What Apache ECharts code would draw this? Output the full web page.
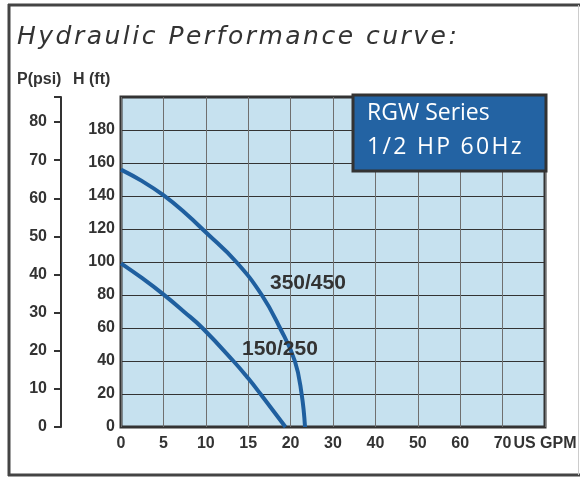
<!DOCTYPE html>
<html>
<head>
<meta charset="utf-8">
<script src="https://cdn.jsdelivr.net/npm/echarts@6/dist/echarts.min.js"></script>
<style>
  html, body { margin: 0; padding: 0; background: #fff; }
  #chart { width: 580px; height: 477px; }
</style>
</head>
<body>
<div id="chart"></div>
<script>
// x axis is spaced evenly but its labels jump from steps of 5 to steps of 10 after 20
var xTickLabels = ['0', '5', '10', '15', '20', '30', '40', '50', '60', '70', 'US GPM'];
var hTicks = [0, 20, 40, 60, 80, 100, 120, 140, 160, 180];
var psiTicks = [0, 10, 20, 30, 40, 50, 60, 70, 80];

// curves: flow in US GPM, head in ft
var flow350 = [0, 2.5, 5, 7.5, 10, 13.6, 16.6, 18.75, 21, 22.6, 23.4];
var head350 = [156, 149, 140.5, 130, 118, 100, 80, 60, 40, 20, 0];
var flow150 = [0, 2.5, 5, 7.5, 9.6, 13.25, 15, 16.45, 19.4];
var head150 = [99.2, 90.2, 80.4, 69.6, 60, 40, 29.5, 20, 0];

// gpm -> position on the evenly spaced axis
function gpmToAxis(g) {
  return g <= 20 ? g / 5 : 4 + (g - 20) / 10;
}
function buildData(flow, head) {
  var out = [];
  for (var i = 0; i < flow.length; i++) out.push([gpmToAxis(flow[i]), head[i]]);
  return out;
}
// widen text a little, the original is set with loose tracking
function spaced(s) {
  return s.split('').join('\u200A');
}

var chart = echarts.init(document.getElementById('chart'));
var darkText = '#333';
var curveColor = '#1f5f9f';
var labelFont = 'Liberation Sans';

var option = {
  animation: false,
  grid: {
    left: 121, top: 97, right: 35, bottom: 50,
    show: true,
    backgroundColor: '#c6e1ef',
    borderColor: '#333',
    borderWidth: 3
  },
  xAxis: {
    type: 'value',
    min: 0, max: 10, interval: 1,
    axisLine: { show: false },
    axisTick: { show: false },
    splitLine: { show: true, lineStyle: { color: '#6f6f6f', width: 1 } },
    axisLabel: {
      margin: 9,
      color: darkText,
      fontSize: 16,
      fontWeight: 'bold',
      fontFamily: labelFont,
      formatter: function (v) { return xTickLabels[Math.round(v)]; }
    }
  },
  yAxis: [
    {
      type: 'value',
      min: 0, max: 200, interval: 20,
      axisLine: { show: false },
      axisTick: { show: false },
      splitLine: { show: true, lineStyle: { color: '#333', width: 1 } },
      axisLabel: {
        margin: 6,
        color: darkText,
        fontSize: 16,
        fontWeight: 'bold',
        fontFamily: labelFont,
        verticalAlign: 'middle',
        padding: [10, 0, 0, 0],
        formatter: function (v) { return hTicks.indexOf(v) >= 0 ? String(v) : ''; }
      }
    },
    {
      // pressure scale, 1 psi = 2.31 ft of head
      type: 'value',
      position: 'left',
      offset: 60,
      min: 0, max: 200 / 2.31, interval: 10,
      axisLine: { show: true, lineStyle: { color: '#333', width: 2 } },
      axisTick: { show: true, length: 7, lineStyle: { color: '#333', width: 2 } },
      splitLine: { show: false },
      axisLabel: {
        margin: 14,
        color: darkText,
        fontSize: 16,
        fontWeight: 'bold',
        fontFamily: labelFont,
        formatter: function (v) { return psiTicks.indexOf(v) >= 0 ? String(v) : ''; }
      }
    }
  ],
  series: [
    {
      name: '350/450',
      type: 'line',
      smooth: 0.45,
      symbol: 'none',
      data: buildData(flow350, head350),
      lineStyle: { color: curveColor, width: 4 }
    },
    {
      name: '150/250',
      type: 'line',
      smooth: 0.45,
      symbol: 'none',
      data: buildData(flow150, head150),
      lineStyle: { color: curveColor, width: 4 }
    }
  ],
  graphic: [
    // outer frame
    { type: 'line', shape: { x1: 9, y1: 4, x2: 9, y2: 476 }, style: { stroke: '#444', lineWidth: 3 } },
    { type: 'line', shape: { x1: 8, y1: 5, x2: 580, y2: 5 }, style: { stroke: '#444', lineWidth: 3 } },
    { type: 'line', shape: { x1: 8, y1: 475, x2: 580, y2: 475 }, style: { stroke: '#444', lineWidth: 3 } },
    { type: 'line', shape: { x1: 578.5, y1: 5, x2: 578.5, y2: 475 }, style: { stroke: '#ccc', lineWidth: 1 } },
    {
      type: 'text', left: 17, top: 25,
      style: {
        text: spaced('Hydraulic Performance curve:'),
        fill: darkText,
        font: 'italic 25px "DejaVu Sans"'
      }
    },
    { type: 'text', left: 17, top: 72, style: { text: 'P(psi)', fill: darkText, font: 'bold 16px "Liberation Sans"' } },
    { type: 'text', left: 73, top: 72, style: { text: 'H (ft)', fill: darkText, font: 'bold 16px "Liberation Sans"' } },
    { type: 'text', left: 270, top: 273, z: 10, style: { text: '350/450', fill: darkText, font: 'bold 21px "Liberation Sans"' } },
    { type: 'text', left: 242, top: 339, z: 10, style: { text: '150/250', fill: darkText, font: 'bold 21px "Liberation Sans"' } },
    {
      type: 'rect', z: 20,
      shape: { x: 353, y: 95, width: 193, height: 76 },
      style: { fill: '#2363a3', stroke: '#333', lineWidth: 3 }
    },
    { type: 'text', left: 367, top: 102, z: 21, style: { text: 'RGW Series', fill: '#fff', font: '23px "Open Sans"' } },
    { type: 'text', left: 367, top: 136, z: 21, style: { text: spaced('1/2 HP 60Hz'), fill: '#fff', font: '23px "Open Sans"' } }
  ]
};

chart.setOption(option);
</script>
</body>
</html>
